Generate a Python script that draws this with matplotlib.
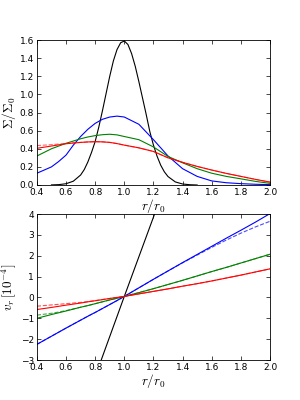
import matplotlib
matplotlib.use("Agg")
import matplotlib.pyplot as plt

plt.rcParams["mathtext.fontset"] = "cm"
plt.rcParams["xtick.direction"] = "in"
plt.rcParams["ytick.direction"] = "in"
plt.rcParams["xtick.top"] = True
plt.rcParams["ytick.right"] = True
plt.rcParams["font.size"] = 6.5

# surface density, coloured curves on a common grid
r = [0.4, 0.5, 0.55, 0.6, 0.65, 0.7, 0.75, 0.8, 0.85, 0.9, 0.95, 1.0, 1.1, 1.2, 1.3, 1.4, 1.5, 1.6, 1.7, 1.8, 1.9, 2.0]
sig_blue = [0.13, 0.20, 0.26, 0.33, 0.44, 0.535, 0.615, 0.68, 0.725, 0.75, 0.76, 0.75, 0.67, 0.50, 0.32, 0.18, 0.095, 0.045, 0.025, 0.015, 0.008, 0.004]
sig_green = [0.32, 0.40, 0.43, 0.46, 0.485, 0.51, 0.53, 0.545, 0.555, 0.56, 0.553, 0.535, 0.50, 0.42, 0.315, 0.245, 0.18, 0.13, 0.095, 0.068, 0.04, 0.018]
sig_red = [0.405, 0.43, 0.443, 0.455, 0.463, 0.47, 0.475, 0.478, 0.476, 0.47, 0.457, 0.44, 0.41, 0.37, 0.30, 0.25, 0.205, 0.165, 0.128, 0.095, 0.062, 0.032]
sig_red_dash = [0.435, 0.445, 0.452, 0.458, 0.465, 0.47, 0.475, 0.478, 0.476, 0.47, 0.457, 0.44, 0.41, 0.37, 0.30, 0.25, 0.205, 0.165, 0.128, 0.095, 0.062, 0.032]

# initial ring
r_k = [0.5, 0.55, 0.6, 0.65, 0.7, 0.725, 0.75, 0.775, 0.8, 0.825, 0.85, 0.875, 0.9, 0.925, 0.95,
       0.975, 1.0, 1.025, 1.05, 1.075, 1.1, 1.125, 1.15, 1.175, 1.2, 1.225, 1.25, 1.275, 1.3,
       1.35, 1.4, 1.45, 1.5]
sig_k = [0.001, 0.004, 0.014, 0.042, 0.11, 0.17, 0.255, 0.36, 0.48, 0.64, 0.82, 1.01, 1.20, 1.37, 1.495,
         1.57, 1.589, 1.55, 1.45, 1.31, 1.14, 0.96, 0.78, 0.59, 0.44, 0.317, 0.218, 0.145, 0.093,
         0.034, 0.011, 0.003, 0.0]

# radial velocity in units of 1e-4
v_blue = [-2.25, -1.86, -1.665, -1.47, -1.28, -1.09, -0.9, -0.72, -0.53, -0.34, -0.15, 0.05, 0.46, 0.87, 1.27, 1.67, 2.06, 2.45, 2.84, 3.22, 3.61, 4.02]
v_blue_dash = [-2.25, -1.86, -1.665, -1.47, -1.28, -1.09, -0.9, -0.72, -0.53, -0.34, -0.15, 0.05, 0.46, 0.87, 1.27, 1.66, 2.03, 2.40, 2.75, 3.08, 3.38, 3.65]
v_green = [-1.0, -0.82, -0.735, -0.65, -0.56, -0.47, -0.39, -0.30, -0.21, -0.12, -0.04, 0.05, 0.23, 0.42, 0.62, 0.82, 1.03, 1.24, 1.44, 1.65, 1.86, 2.07]
v_green_dash = [-0.85, -0.76, -0.70, -0.63, -0.55, -0.47, -0.39, -0.30, -0.21, -0.12, -0.04, 0.05, 0.23, 0.42, 0.62, 0.82, 1.03, 1.24, 1.44, 1.65, 1.86, 2.07]
v_red = [-0.58, -0.48, -0.425, -0.37, -0.32, -0.27, -0.21, -0.16, -0.105, -0.05, 0.0, 0.05, 0.17, 0.29, 0.41, 0.54, 0.66, 0.79, 0.93, 1.07, 1.22, 1.37]
v_red_dash = [-0.42, -0.36, -0.33, -0.30, -0.27, -0.24, -0.20, -0.15, -0.10, -0.05, 0.0, 0.05, 0.17, 0.29, 0.41, 0.54, 0.66, 0.79, 0.93, 1.07, 1.22, 1.37]
r_vk = [0.8, 1.0, 1.25]
v_k = [-3.8, 0.05, 4.8]

fig = plt.figure(figsize=(3, 4), dpi=100)
ax1 = fig.add_axes([0.123, 0.5375, 0.777, 0.3625])
ax2 = fig.add_axes([0.123, 0.10, 0.777, 0.365])

lw = 0.8
ax1.plot(r_k, sig_k, color="k", lw=lw)
ax1.plot(r, sig_blue, color="b", lw=lw)
ax1.plot(r, sig_green, color="g", lw=lw)
ax1.plot(r, sig_red_dash, color="r", lw=lw, ls="--", alpha=0.6)
ax1.plot(r, sig_red, color="r", lw=lw)
ax1.set_xlim(0.4, 2.0)
ax1.set_ylim(0.0, 1.6)
ax1.set_yticks([0.0, 0.2, 0.4, 0.6, 0.8, 1.0, 1.2, 1.4, 1.6])
ax1.set_xlabel(r"$r/r_0$", fontsize=9.5, labelpad=0)
ax1.set_ylabel(r"$\Sigma/\Sigma_0$", fontsize=9.5)

ax2.plot(r_vk, v_k, color="k", lw=lw)
ax2.plot(r, v_blue_dash, color="b", lw=lw, ls="--", alpha=0.7)
ax2.plot(r, v_blue, color="b", lw=lw)
ax2.plot(r, v_green_dash, color="g", lw=lw, ls="--", alpha=0.7)
ax2.plot(r, v_green, color="g", lw=lw)
ax2.plot(r, v_red_dash, color="r", lw=lw, ls="--", alpha=0.7)
ax2.plot(r, v_red, color="r", lw=lw)
ax2.set_xlim(0.4, 2.0)
ax2.set_ylim(-3, 4)
ax2.set_xlabel(r"$r/r_0$", fontsize=9.5, labelpad=0)
ax2.set_ylabel(r"$v_r\,[10^{-4}]$", fontsize=9.5)

for ax in (ax1, ax2):
    ax.tick_params(length=3, width=0.5, pad=2)
    ax.yaxis.set_label_coords(-0.08, 0.5)
    for s in ax.spines.values():
        s.set_linewidth(0.6)

fig.savefig("out.png", dpi=100)
